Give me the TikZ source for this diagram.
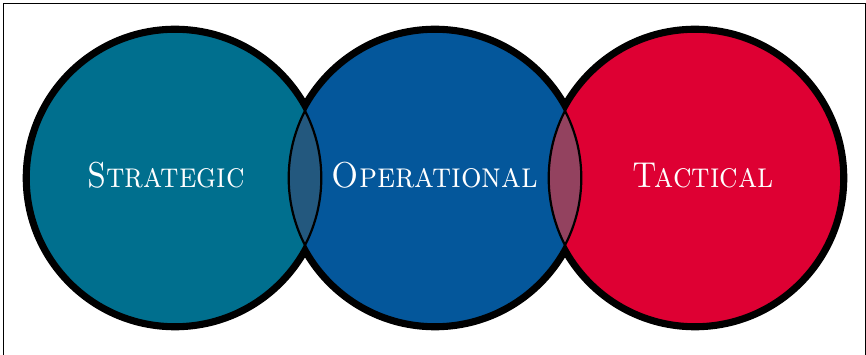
\documentclass[tikz,border=0pt]{standalone}
\usepackage{fontspec}
\definecolor{cteal}{HTML}{006F8E}
\definecolor{cblue}{HTML}{04579B}
\definecolor{cred}{HTML}{DE0033}
\definecolor{lensA}{HTML}{23587E}
\definecolor{lensB}{HTML}{93425F}
\begin{document}
\begin{tikzpicture}[x=1pt,y=-1pt,
  lbl/.style={text=white,font=\fontsize{36}{40}\selectfont,anchor=base,inner sep=0pt}]
\useasboundingbox (0,0) rectangle (866,355);
\draw[line width=1pt] (3.5,360) -- (3.5,3.5) -- (865,3.5) -- (865,360);
\def\R{146.3}
\coordinate (cA) at (175,178);
\coordinate (cB) at (435,178);
\coordinate (cC) at (695,178);
% thick outer strokes
\foreach \c in {cA,cB,cC} \draw[line width=12pt] (\c) circle (\R);
% fills
\fill[cteal] (cA) circle (\R);
\fill[cblue] (cB) circle (\R);
\fill[cred] (cC) circle (\R);
% lenses
\begin{scope}
  \clip (cA) circle (\R);
  \fill[lensA] (cB) circle (\R);
\end{scope}
\begin{scope}
  \clip (cB) circle (\R);
  \fill[lensB] (cC) circle (\R);
\end{scope}
% thin inner outlines
\foreach \c in {cA,cB,cC} \draw[line width=2.2pt] (\c) circle (\R);
% labels
\node[lbl] (s) at (166,188) {\scalebox{0.87}[1]{\textsc{Strategic}}};
\node[lbl] (o) at (435,188) {\scalebox{0.9}[1]{\textsc{Operational}}};
\node[lbl] (t) at (703,188) {\scalebox{0.87}[1]{\textsc{Tactical}}};
\end{tikzpicture}
\end{document}
